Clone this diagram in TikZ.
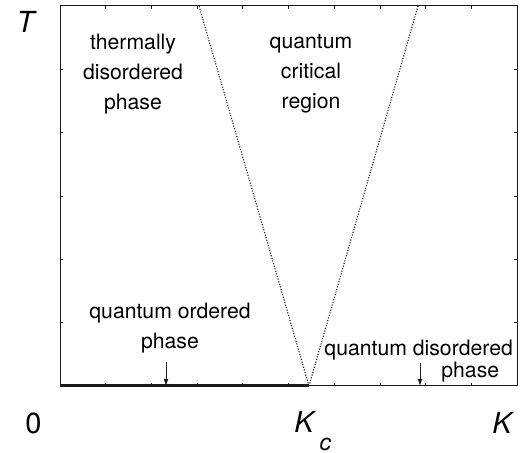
\documentclass[tikz,border=0pt]{standalone}
\usepackage{fontspec}
\setmainfont{TeX Gyre Heros}
\usepackage{tikz}
\usetikzlibrary{arrows.meta}
\definecolor{ink}{HTML}{1A1A1A}
\tikzset{
  frame/.style={draw=ink,line width=0.5pt},
  tickmark/.style={draw=ink,line width=0.4pt},
  boundary/.style={draw=ink,line width=0.55pt,dash pattern=on 0.55pt off 0.8pt},
  phaseline/.style={draw=ink,line width=1.5pt},
  regionlabel/.style={align=center,inner sep=0pt,
                      font=\fontsize{10.6}{15}\selectfont},
  axislabel/.style={inner sep=0pt,font=\fontsize{14.5}{17}\selectfont\itshape},
  phasearr/.style={-{Latex[length=3.5pt,width=2.4pt]},line width=0.4pt,color=ink}
}
\begin{document}
\begin{tikzpicture}[x=0.5pt,y=-0.5pt]
  \useasboundingbox (0,0) rectangle (524,453);
  \coordinate (nw) at (60,6);
  \coordinate (se) at (517,386);
  \coordinate (sw) at (60,386);
  \coordinate (crit) at (309,386);
  \coordinate (lefttop) at (199,6);
  \coordinate (righttop) at (418,6);

  \draw[frame] (nw) rectangle (se);
  \foreach \i in {1,...,9} {
    \draw[tickmark] ({60+45.7*\i},6) -- ++(0,3);
    \draw[tickmark] ({60+45.7*\i},386) -- ++(0,-3);
  }
  \foreach \j in {1,...,5} {
    \draw[tickmark] (60,{6+63.33*\j}) -- ++(3,0);
    \draw[tickmark] (517,{6+63.33*\j}) -- ++(-3,0);
  }

  \draw[boundary] (crit) -- (lefttop);
  \draw[boundary] (crit) -- (righttop);
  \draw[phaseline] (sw) -- (crit);

  \node[axislabel,anchor=base] (tlabel) at (25.5,33) {T};
  \node[axislabel,font=\fontsize{14.5}{17}\selectfont,anchor=base] (zero) at (33.5,434) {0};
  \node[axislabel,anchor=base west] (kclabel) at (294,433)
    {K\hspace{3pt}\raisebox{-9pt}{\fontsize{11.5}{13}\selectfont c}};
  \node[axislabel,anchor=base] (klabel) at (502,434) {K};

  \node[regionlabel] (thermal) at (133,74) {thermally\\disordered\\phase};
  \node[regionlabel] (critical) at (311,74) {quantum\\critical\\region};
  \node[regionlabel] (ordered) at (170,328) {quantum ordered\\phase};
  \node[regionlabel,align=left,anchor=north west,
        font=\fontsize{10.6}{10}\selectfont] (disordered) at (324,340)
    {quantum disordered\\\hspace*{58.5pt}phase};

  \coordinate (ordtail) at (166,362);
  \coordinate (ordtip) at (166,386);
  \coordinate (distail) at (420,363);
  \coordinate (distip) at (420,386);
  \draw[phasearr] (ordtail) -- (ordtip);
  \draw[phasearr] (distail) -- (distip);
\end{tikzpicture}
\end{document}
